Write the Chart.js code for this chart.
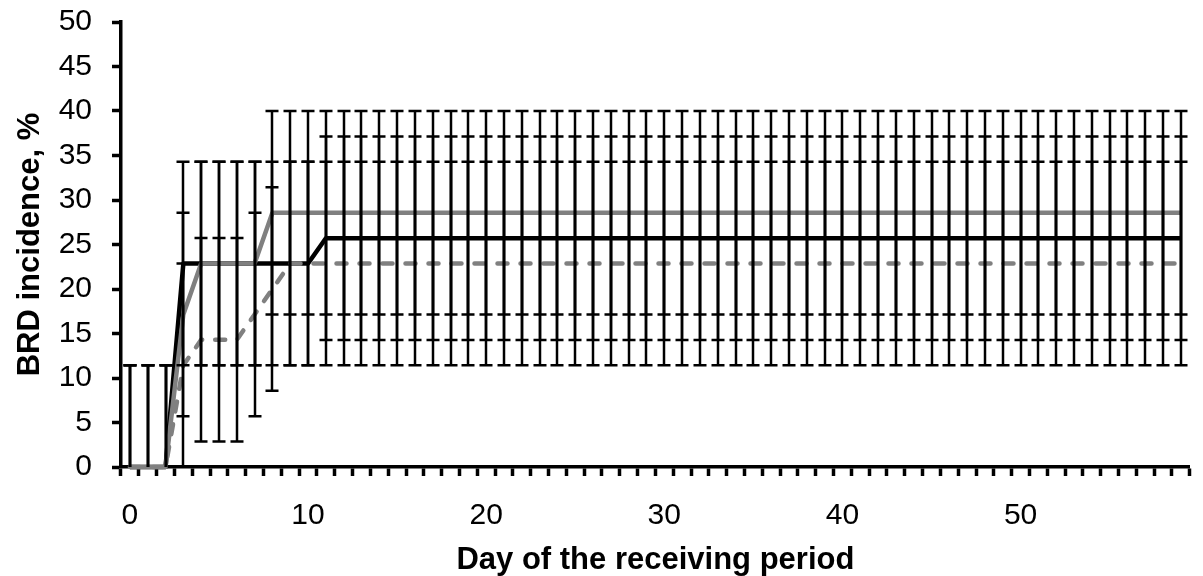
<!DOCTYPE html>
<html>
<head>
<meta charset="utf-8">
<title>BRD incidence</title>
<script src="https://cdn.jsdelivr.net/npm/chart.js@4.4.1/dist/chart.umd.min.js"></script>
<style>
    html, body { margin: 0; padding: 0; background: #fff; }
    .chart-container { position: relative; width: 1203px; height: 576px; }
</style>
</head>
<body>
<div class="chart-container">
    <canvas id="incidenceChart" width="1203" height="576"></canvas>
</div>
<script>
// Day of the receiving period (category axis)
const days = [
    0, 1, 2, 3, 4, 5, 6, 7, 8, 9,
    10, 11, 12, 13, 14, 15, 16, 17, 18, 19,
    20, 21, 22, 23, 24, 25, 26, 27, 28, 29,
    30, 31, 32, 33, 34, 35, 36, 37, 38, 39,
    40, 41, 42, 43, 44, 45, 46, 47, 48, 49,
    50, 51, 52, 53, 54, 55, 56, 57, 58, 59
];

// Cumulative BRD incidence, %
const blackSolid = [
    0, 0, 0, 22.86, 22.86, 22.86, 22.86, 22.86, 22.86, 22.86,
    22.86, 25.71, 25.71, 25.71, 25.71, 25.71, 25.71, 25.71, 25.71, 25.71,
    25.71, 25.71, 25.71, 25.71, 25.71, 25.71, 25.71, 25.71, 25.71, 25.71,
    25.71, 25.71, 25.71, 25.71, 25.71, 25.71, 25.71, 25.71, 25.71, 25.71,
    25.71, 25.71, 25.71, 25.71, 25.71, 25.71, 25.71, 25.71, 25.71, 25.71,
    25.71, 25.71, 25.71, 25.71, 25.71, 25.71, 25.71, 25.71, 25.71, 25.71
];
const graySolid = [
    0, 0, 0, 17.14, 22.86, 22.86, 22.86, 22.86, 28.57, 28.57,
    28.57, 28.57, 28.57, 28.57, 28.57, 28.57, 28.57, 28.57, 28.57, 28.57,
    28.57, 28.57, 28.57, 28.57, 28.57, 28.57, 28.57, 28.57, 28.57, 28.57,
    28.57, 28.57, 28.57, 28.57, 28.57, 28.57, 28.57, 28.57, 28.57, 28.57,
    28.57, 28.57, 28.57, 28.57, 28.57, 28.57, 28.57, 28.57, 28.57, 28.57,
    28.57, 28.57, 28.57, 28.57, 28.57, 28.57, 28.57, 28.57, 28.57, 28.57
];
const grayDashed = [
    0, 0, 0, 11.43, 14.29, 14.29, 14.29, 17.14, 20.0, 22.86,
    22.86, 22.86, 22.86, 22.86, 22.86, 22.86, 22.86, 22.86, 22.86, 22.86,
    22.86, 22.86, 22.86, 22.86, 22.86, 22.86, 22.86, 22.86, 22.86, 22.86,
    22.86, 22.86, 22.86, 22.86, 22.86, 22.86, 22.86, 22.86, 22.86, 22.86,
    22.86, 22.86, 22.86, 22.86, 22.86, 22.86, 22.86, 22.86, 22.86, 22.86,
    22.86, 22.86, 22.86, 22.86, 22.86, 22.86, 22.86, 22.86, 22.86, 22.86
];

// Error bar half-length (same for every point of a series)
const blackErr = 11.43;
const grayErr = 11.43;
const dashedErr = 11.43;

const xTickLabels = ['0', '10', '20', '30', '40', '50'];
const yTicks = [0, 5, 10, 15, 20, 25, 30, 35, 40, 45, 50];

const FONT = "'Liberation Sans', Arial, sans-serif";

// Draws black +/- error bars for every point, clipped to the plot area
const errorBarsPlugin = {
    id: 'errorBars',
    afterDatasetsDraw(chart) {
        const ctx = chart.ctx;
        const area = chart.chartArea;
        const yScale = chart.scales.y;
        ctx.save();
        ctx.beginPath();
        ctx.rect(area.left, area.top - 3, area.right - area.left, area.bottom - area.top + 3);
        ctx.clip();
        ctx.strokeStyle = '#000';
        ctx.lineWidth = 2.5;
        chart.data.datasets.forEach((ds, di) => {
            const meta = chart.getDatasetMeta(di);
            meta.data.forEach((pt, i) => {
                const v = ds.data[i];
                const top = yScale.getPixelForValue(v + ds.errorBar);
                const bot = yScale.getPixelForValue(v - ds.errorBar);
                const x = Math.round(pt.x);
                ctx.beginPath();
                ctx.moveTo(x, top);
                ctx.lineTo(x, bot);
                ctx.moveTo(x - 6.5, top);
                ctx.lineTo(x + 6.5, top);
                ctx.moveTo(x - 6.5, bot);
                ctx.lineTo(x + 6.5, bot);
                ctx.stroke();
            });
        });
        ctx.restore();
    }
};

const ctx = document.getElementById('incidenceChart');

new Chart(ctx, {
    type: 'line',
    data: {
        labels: days,
        datasets: [{
            label: 'Black',
            data: blackSolid,
            errorBar: blackErr,
            borderColor: '#000000',
            borderWidth: 4.5,
            order: 3,
        }, {
            label: 'Gray',
            data: graySolid,
            errorBar: grayErr,
            borderColor: '#808080',
            borderWidth: 4.5,
            order: 2,
        }, {
            label: 'Gray dashed',
            data: grayDashed,
            errorBar: dashedErr,
            borderColor: '#808080',
            borderWidth: 4.5,
            borderDash: [10, 13],
            borderCapStyle: 'round',
            order: 1,
        }]
    },
    options: {
        responsive: false,
        animation: false,
        devicePixelRatio: 1,
        layout: {
            padding: { left: 0, right: 13, top: 22, bottom: 0 }
        },
        elements: {
            point: { radius: 0 },
            line: { tension: 0, fill: false, borderJoinStyle: 'round' }
        },
        datasets: {
            line: { clip: false }
        },
        plugins: {
            legend: { display: false },
            tooltip: { enabled: false }
        },
        scales: {
            x: {
                type: 'category',
                offset: true,
                afterFit: function(scale) { scale.height = 109; },
                border: { display: true, color: '#000', width: 3.5 },
                grid: {
                    offset: true,
                    drawOnChartArea: false,
                    drawTicks: true,
                    tickLength: 9,
                    tickWidth: 3.5,
                    tickColor: '#000'
                },
                ticks: {
                    autoSkip: false,
                    maxRotation: 0,
                    padding: 22,
                    color: '#000',
                    font: { family: FONT, size: 30 },
                    callback: function(val, index) {
                        const lbl = String(days[index]);
                        return xTickLabels.includes(lbl) ? lbl : '';
                    }
                },
                title: {
                    display: true,
                    text: 'Day of the receiving period',
                    color: '#000',
                    padding: { top: 0, bottom: 0 },
                    font: { family: FONT, size: 31, weight: 'bold', lineHeight: 1 }
                }
            },
            y: {
                min: 0,
                max: 50,
                afterFit: function(scale) {
                    scale.width = 121;
                    scale.paddingTop = 0;
                    scale.paddingBottom = 0;
                },
                afterBuildTicks: function(scale) {
                    scale.ticks = yTicks.map(v => ({ value: v }));
                },
                border: { display: true, color: '#000', width: 3.5 },
                grid: {
                    drawOnChartArea: false,
                    drawTicks: true,
                    tickLength: 9,
                    tickWidth: 3.5,
                    tickColor: '#000'
                },
                ticks: {
                    padding: 20,
                    color: '#000',
                    font: { family: FONT, size: 30 }
                },
                title: {
                    display: true,
                    text: 'BRD incidence, %',
                    color: '#000',
                    padding: { top: 15, bottom: 0 },
                    font: { family: FONT, size: 31, weight: 'bold', lineHeight: 1 }
                }
            }
        }
    },
    plugins: [errorBarsPlugin]
});
</script>
</body>
</html>
